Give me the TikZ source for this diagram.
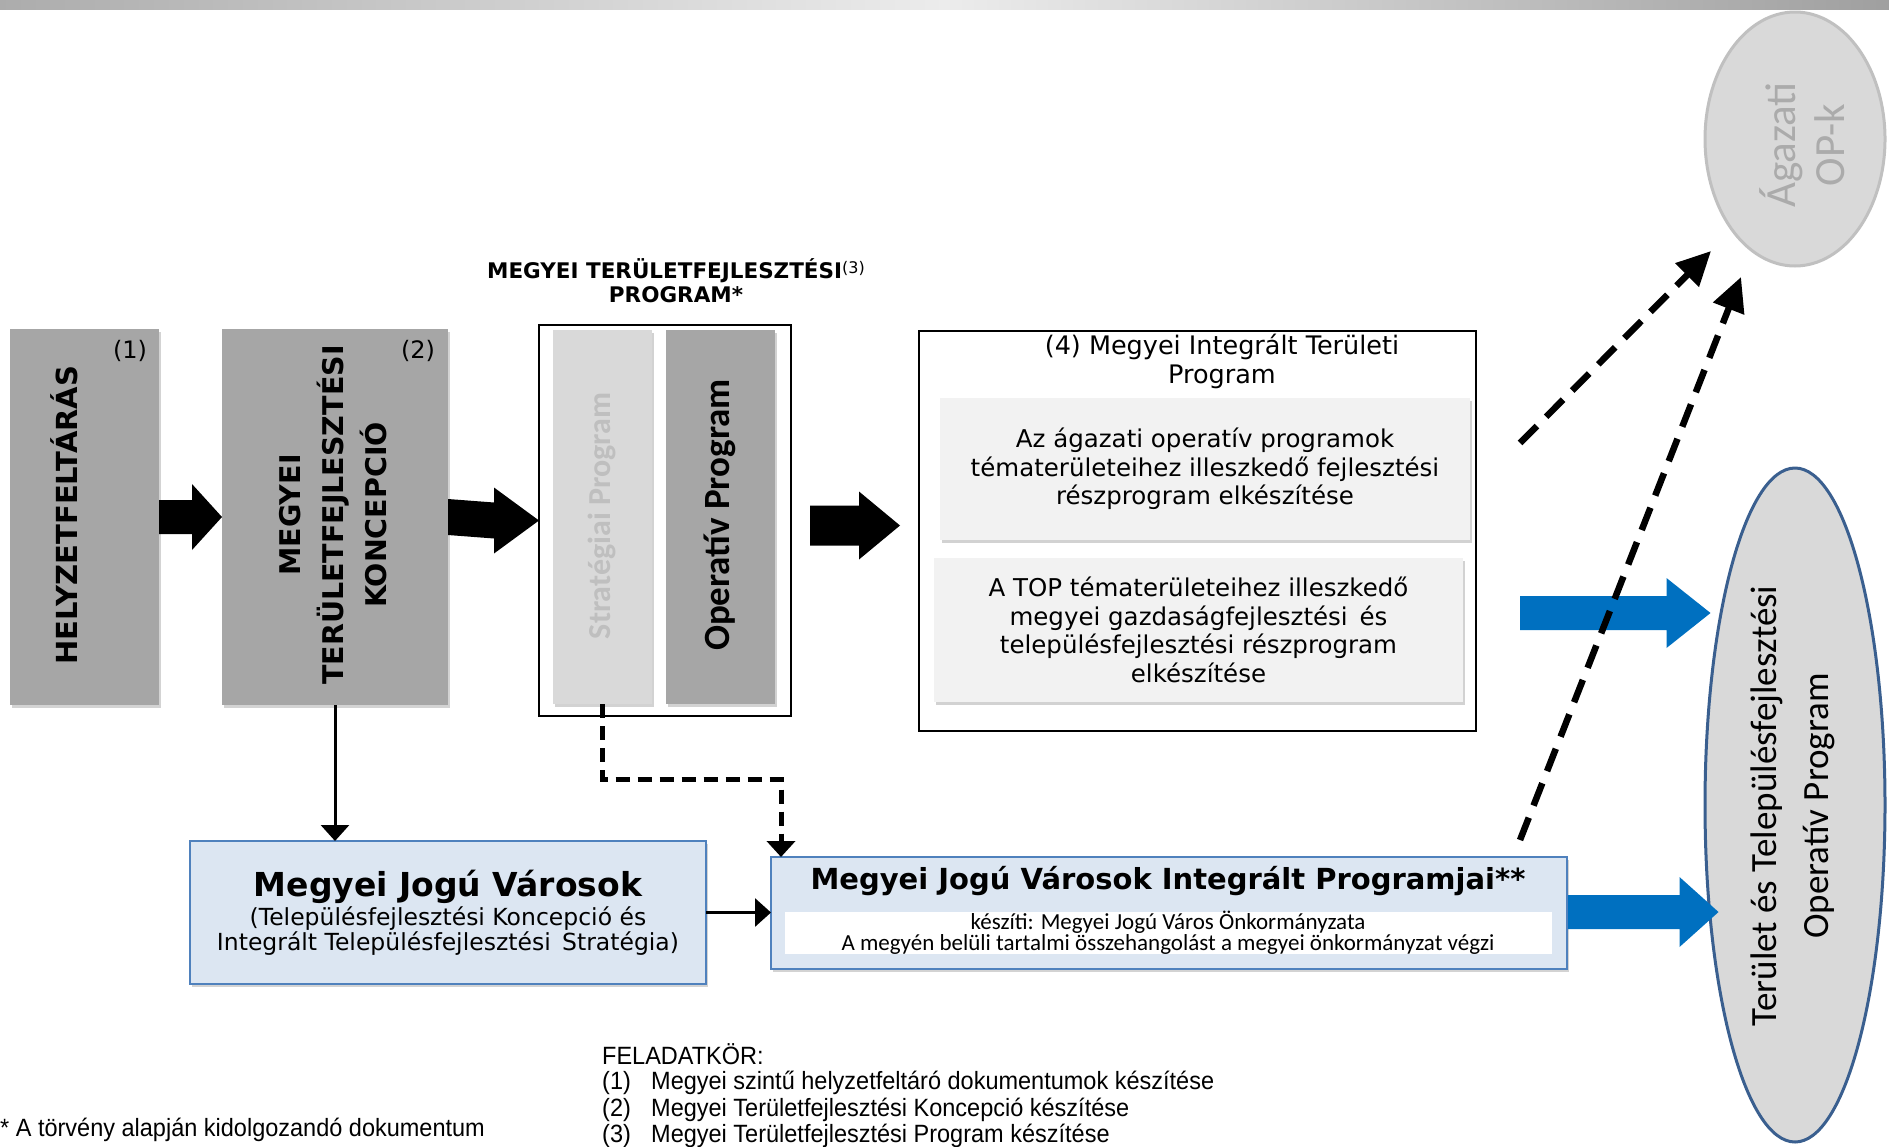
\documentclass[tikz,border=0pt]{standalone}
\usepackage{fontspec}
\setmainfont{DejaVu Sans}
\newfontfamily\calib{Carlito}
\newfontfamily\narr[FakeStretch=0.94]{Liberation Sans}
\usetikzlibrary{shapes.geometric,arrows.meta,calc,shadows}
\definecolor{gdark}{HTML}{A6A6A6}
\definecolor{glight}{HTML}{D9D9D9}
\definecolor{stratgrey}{HTML}{BFBFBF}
\definecolor{mjvfill}{HTML}{DCE6F2}
\definecolor{mjvborder}{HTML}{4F81BD}
\definecolor{bluearr}{HTML}{0070C0}
\definecolor{inner4}{HTML}{F2F2F2}
\definecolor{topborder}{HTML}{3A5F8F}
\definecolor{agborder}{HTML}{C0C0C0}
\definecolor{agtext}{HTML}{ABABAB}
\newcommand\fs[2]{\fontsize{#1}{#2}\selectfont}
\newcommand\blockarr[6]{%
  \fill[#6] ($#1+(0,-#3)$) -- ($#2+(-#5,-#3)$) -- ($#2+(-#5,-#4)$) -- #2 --
    ($#2+(-#5,#4)$) -- ($#2+(-#5,#3)$) -- ($#1+(0,#3)$) -- cycle;}
\begin{document}
\begin{tikzpicture}[x=1pt,y=-1pt,
  box/.style={anchor=north west, inner sep=0pt, outer sep=0pt},
  shad/.style={drop shadow={shadow xshift=2pt, shadow yshift=-3pt, opacity=0.35}},
  greybox/.style={box, fill=gdark, shad},
  lightbox/.style={box, fill=glight, shad},
  framebox/.style={box, draw=black, line width=1.2pt, fill=white},
  innerbox/.style={box, fill=inner4, shad, align=center, font=\fs{24.5}{28.5}},
  mjvbox/.style={box, fill=mjvfill, draw=mjvborder, line width=2.5pt, shad},
  solidarr/.style={line width=3pt, -{Triangle[width=28pt,length=16pt]}},
  dasharr/.style={line width=5pt, dash pattern=on 14pt off 8pt, -{Triangle[width=28pt,length=16pt]}},
  bigdash/.style={line width=6.5pt, dash pattern=on 24pt off 13pt, -{Triangle[width=32pt,length=34pt]}},
  legend/.style={anchor=west, inner sep=0pt, font=\narr\fs{25}{28}}
]
\useasboundingbox (0,0) rectangle (1889,1146);
\clip (0,0) rectangle (1889,1146);
% top bar
\shade[left color=gray!65, right color=gray!75, middle color=gray!15] (0,0) rectangle (1889,9);

% ellipses
\node[ellipse, draw=agborder, line width=3pt, fill=glight, minimum width=180pt, minimum height=254pt, inner sep=0pt] (ag) at (1795,139) {};
\node[rotate=90, align=center, font=\calib\fs{43}{49}, text=agtext] (agt) at (1802,145) {Ágazati\\OP-k};
\node[ellipse, draw=topborder, line width=3pt, fill=glight, minimum width=180pt, minimum height=674pt, inner sep=0pt] (top) at (1795,805) {};
\node[rotate=90, align=center, font=\calib\fs{37}{52}] (topt) at (1793,806) {Terület és Településfejlesztési\\Operatív Program};

% box 1 and 2
\node[greybox, minimum width=149pt, minimum height=376pt] (b1) at (10,329) {};
\node[rotate=90, font=\fs{29}{34}\bfseries] (b1t) at (64,515) {HELYZETFELTÁRÁS};
\node[font=\fs{24}{28}] (n1) at (130,351) {(1)};
\node[greybox, minimum width=226pt, minimum height=376pt] (b2) at (222,329) {};
\node[rotate=90, align=center, font=\fs{28.5}{43}\bfseries] (b2t) at (333,515) {MEGYEI\\TERÜLETFEJLESZTÉSI\\KONCEPCIÓ};
\node[font=\fs{24}{28}] (n2) at (418,351) {(2)};

% box 3
\node[align=center, font=\fs{21.5}{24}\bfseries] (t3) at (676,281) {MEGYEI TERÜLETFEJLESZTÉSI{\mdseries\raisebox{5pt}{\fs{16}{16}(3)}}\\PROGRAM*};
\node[framebox, minimum width=252pt, minimum height=391pt] (box3) at (539,325) {};
\node[lightbox, minimum width=99pt, minimum height=374pt] (strat) at (553,330) {};
\node[rotate=90, font=\calib\fs{32}{36}\bfseries, text=stratgrey] (stratt) at (602,516) {Stratégiai Program};
\node[greybox, minimum width=109pt, minimum height=374pt] (oper) at (666,330) {};
\node[rotate=90, font=\calib\fs{37}{40}\bfseries] (opert) at (720,515) {Operatív Program};

% box 4
\node[framebox, minimum width=557pt, minimum height=400pt] (box4) at (919,331) {};
\node[align=center, font=\fs{25.5}{29}] (t4) at (1222,361) {(4) Megyei Integrált Területi\\Program};
\node[innerbox, minimum width=530pt, minimum height=142pt] (b4a) at (940,398) {Az ágazati operatív programok\\tématerületeihez illeszkedő fejlesztési\\részprogram elkészítése};
\node[innerbox, minimum width=529pt, minimum height=144pt] (b4b) at (934,558) {A TOP tématerületeihez illeszkedő\\megyei gazdaságfejlesztési\, és\\településfejlesztési részprogram\\elkészítése};

% MJV boxes
\node[mjvbox, minimum width=516pt, minimum height=143pt] (mjv) at (190,841) {};
\node[font=\fs{33}{36}\bfseries] (mjvt) at (448,887) {Megyei Jogú Városok};
\node[align=center, font=\fs{23.5}{25}] (mjvs) at (448,931) {(Településfejlesztési Koncepció és\\Integrált Településfejlesztési\, Stratégia)};
\node[mjvbox, minimum width=796pt, minimum height=112pt] (mjvip) at (771,857) {};
\node[font=\fs{29}{32}\bfseries] (mjvipt) at (1168,881) {Megyei Jogú Városok Integrált Programjai**};
\node[box, fill=white, minimum width=767pt, minimum height=42pt] (mjvin) at (785,912) {};
\node[align=center, font=\calib\fs{23}{21}] (mjvint) at (1168,933) {készíti: Megyei Jogú Város Önkormányzata\\A megyén belüli tartalmi összehangolást a megyei önkormányzat végzi};

% block arrows
\blockarr{(b1.east)}{(b2.west)}{17}{33}{30}{black}
\blockarr{(b2.east)}{(box3.west)}{18}{33}{45}{black}
\coordinate (a3s) at ($(box3.east)+(19,5)$);
\coordinate (a3e) at ($(a3s -| box4.west)+(-19,0)$);
\blockarr{(a3s)}{(a3e)}{20}{34}{41}{black}
\coordinate (bl1s) at (1520,613);
\coordinate (bl1e) at ($(bl1s -| top.west)+(7,0)$);
\blockarr{(bl1s)}{(bl1e)}{17}{35}{44}{bluearr}
\coordinate (bl2s) at ($(mjvip.east)+(1,-1)$);
\coordinate (bl2e) at ($(bl2s -| top.west)+(15,0)$);
\blockarr{(bl2s)}{(bl2e)}{17}{35}{39}{bluearr}

% connectors
\draw[solidarr] (b2.south) -- (b2.south |- mjv.north);
\draw[solidarr] (mjv.east) -- (mjv.east -| mjvip.west);
\coordinate (dtarget) at ($(mjvip.north west)+(10,0)$);
\draw[dasharr] (strat.south) -- ++(0,75) -| (dtarget);
\coordinate (dA) at (1520,443);
\draw[bigdash] (dA) -- ($(ag.center)+(-84,112)$);
\coordinate (dB) at ($(mjvip.north east)+(-47,-17)$);
\draw[bigdash] (dB) -- ($(ag.center)+(-54,138)$);

% legend
\node[legend] (fk) at (602,1054) {FELADATKÖR:};
\node[legend] (l1) at (602,1083) {\makebox[49pt][l]{(1)}Megyei szintű helyzetfeltáró dokumentumok készítése};
\node[legend] (l2) at (602,1110) {\makebox[49pt][l]{(2)}Megyei Területfejlesztési Koncepció készítése};
\node[legend] (l3) at (602,1136) {\makebox[49pt][l]{(3)}Megyei Területfejlesztési Program készítése};
\node[legend] (fn) at (0,1130) {* A törvény alapján kidolgozandó dokumentum};
\end{tikzpicture}
\end{document}
